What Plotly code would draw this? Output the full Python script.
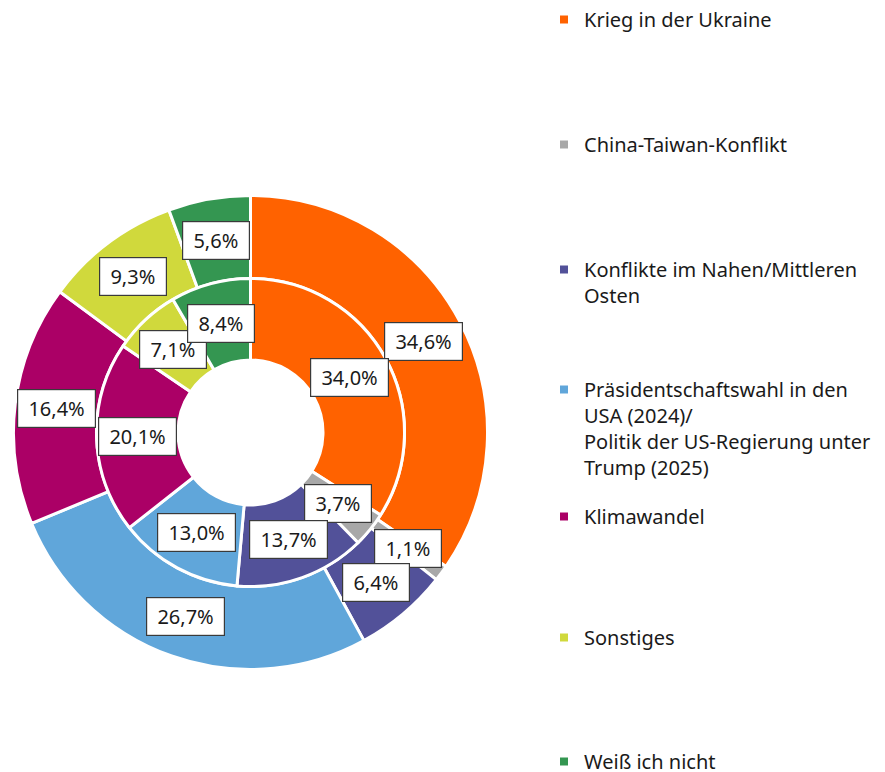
import math
import plotly.graph_objects as go

categories = [
    "Krieg in der Ukraine",
    "China-Taiwan-Konflikt",
    "Konflikte im Nahen/Mittleren Osten",
    "Präsidentschaftswahl in den USA (2024)/ Politik der US-Regierung unter Trump (2025)",
    "Klimawandel",
    "Sonstiges",
    "Weiß ich nicht",
]
legend_labels = [
    "Krieg in der Ukraine",
    "China-Taiwan-Konflikt",
    "Konflikte im Nahen/Mittleren<br>Osten",
    "Präsidentschaftswahl in den<br>USA (2024)/<br>Politik der US-Regierung unter<br>Trump (2025)",
    "Klimawandel",
    "Sonstiges",
    "Weiß ich nicht",
]
outer_values = [34.6, 1.1, 6.4, 26.7, 16.4, 9.3, 5.6]
inner_values = [34.0, 3.7, 13.7, 13.0, 20.1, 7.1, 8.4]
colors = ["#FF6200", "#A8A8A8", "#525199", "#60A6DA", "#AB0066", "#D0D93C", "#349651"]

W, H = 885, 772
PAGE = 8  # default body margin of the html page
CX, CY = 250.5 - PAGE, 432.5 - PAGE
R_OUT, R_MID, R_IN = 237.0, 154.0, 72.5
FONT = "Noto Sans"

def domain(r):
    return dict(x=[(CX - r) / W, (CX + r) / W], y=[1 - (CY + r) / H, 1 - (CY - r) / H])

fig = go.Figure()
fig.add_trace(go.Pie(
    labels=categories, values=outer_values, domain=domain(R_OUT), hole=R_MID / R_OUT,
    sort=False, direction="clockwise", rotation=0, textinfo="none", showlegend=False,
    marker=dict(colors=colors, line=dict(color="white", width=3)),
))
fig.add_trace(go.Pie(
    labels=categories, values=inner_values, domain=domain(R_MID), hole=R_IN / R_MID,
    sort=False, direction="clockwise", rotation=0, textinfo="none", showlegend=False,
    marker=dict(colors=colors, line=dict(color="white", width=3)),
))

def fmt(v):
    return "\u00a0" + ("%.1f" % v).replace(".", ",") + "%\u00a0"

annotations = []
for vals, r0, r1 in [(outer_values, R_MID, R_OUT), (inner_values, R_IN, R_MID)]:
    total = sum(vals)
    cum = 0.0
    rm = (r0 + r1) / 2
    for v in vals:
        ang = 2 * math.pi * (cum + v / 2) / total
        cum += v
        px = CX + rm * math.sin(ang)
        py = CY - rm * math.cos(ang)
        annotations.append(dict(
            x=px / W, y=1 - py / H, xref="paper", yref="paper", showarrow=False,
            text=fmt(v), font=dict(family=FONT, size=20, color="#1a1a1a"),
            bgcolor="white", bordercolor="#3a3a3a", borderwidth=1.2, borderpad=5,
            xanchor="center", yanchor="middle",
        ))

legend_y = [20, 145, 270, 390, 517, 638, 762]
layout_legends = {}
for i, (lab, col, ly) in enumerate(zip(legend_labels, colors, legend_y)):
    key = "legend" if i == 0 else "legend%d" % (i + 1)
    fig.add_trace(go.Scatter(
        x=[None], y=[None], mode="markers", name=lab, legend=key, showlegend=True,
        marker=dict(symbol="square", size=8, color=col),
    ))
    layout_legends[key] = dict(
        x=536 / W, xanchor="left", y=1 - (ly - 28) / H, yanchor="top",
        bgcolor="rgba(0,0,0,0)", borderwidth=0, valign="top",
        font=dict(family=FONT, size=20, color="#1a1a1a"),
    )

fig.update_layout(
    width=W, height=H, margin=dict(l=0, r=0, t=0, b=0, autoexpand=False),
    paper_bgcolor="white", plot_bgcolor="white",
    xaxis=dict(visible=False), yaxis=dict(visible=False),
    annotations=annotations,
    **layout_legends,
)
fig.write_html("out.html")
